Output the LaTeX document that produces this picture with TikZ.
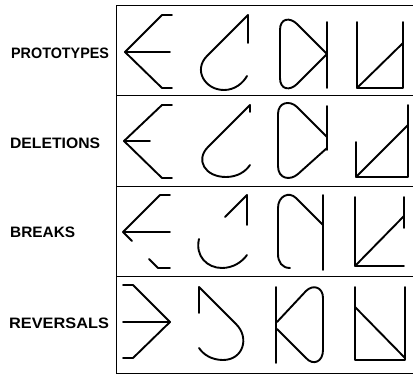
\documentclass[tikz,border=0pt]{standalone}
\usepackage{fontspec}
\setmainfont{Liberation Sans}
\begin{document}
\begin{tikzpicture}[x=0.05cm,y=-0.05cm,
  glyph/.style={line width=2.7pt, line cap=round, line join=round},
  frameline/.style={line width=1.2pt},
  rowlabel/.style={anchor=west, inner sep=0pt, font=\fontsize{21.5}{25}\selectfont\bfseries}]
\useasboundingbox (0,0) rectangle (413,376);
% frame
\draw[frameline] (413,5) -- (116,5) -- (116,373) -- (413,373);
\draw[frameline] (116,95) -- (413,95);
\draw[frameline] (116,186) -- (413,186);
\draw[frameline] (116,276) -- (413,276);
% labels
\node[rowlabel] (lp) at (11,53) {\scalebox{0.95}[1]{PROTOTYPES}};
\node[rowlabel] (ld) at (10,143) {\scalebox{1.04}[1]{DELETIONS}};
\node[rowlabel] (lb) at (10,232) {\scalebox{1.02}[1]{BREAKS}};
\node[rowlabel] (lr) at (9,323) {\scalebox{1.08}[1]{REVERSALS}};
% ---- row 1: prototypes
\draw[glyph] (172,15) -- (162,15) -- (125,52) -- (162,88) -- (172,88);
\draw[glyph] (125,52) -- (170,52);
\draw[glyph] (248,43) -- (248,15) -- (207,56) .. controls (193,70) and (205,90) .. (224,90) .. controls (235,90) and (243,83) .. (247,76);
\draw[glyph] (327,22) -- (327,88);
\draw[glyph] (327,54) -- (297,24) .. controls (290,17) and (280,18) .. (280,30) -- (280,78) .. controls (280,90) and (290,91) .. (297,84) -- cycle;
\draw[glyph] (357,22) -- (357,88) -- (403,88) -- (403,22);
\draw[glyph] (357,88) -- (403,43);
% ---- row 2: deletions
\draw[glyph] (172,105) -- (162,105) -- (124,141) -- (162,178) -- (172,178);
\draw[glyph] (124,141) -- (150,141);
\draw[glyph] (250,112) -- (250,105) -- (208,147) .. controls (195,160) and (205,177) .. (226,177) .. controls (238,177) and (246,171) .. (250,165);
\draw[glyph] (327,137) -- (297,107) .. controls (290,100) and (278,102) .. (278,114) -- (278,166) .. controls (278,179) and (290,181) .. (298,174) -- (327,148);
\draw[glyph] (327,106) -- (327,150);
\draw[glyph] (356,142) -- (356,177) -- (408,177) -- (408,105);
\draw[glyph] (356,177) -- (408,125);
% ---- row 3: breaks
\draw[glyph] (170,195) -- (160,195) -- (123,232) -- (132,241);
\draw[glyph] (123,232) -- (170,232);
\draw[glyph] (149,259) -- (158,268) -- (170,268);
\draw[glyph] (247,225) -- (247,195) -- (225,217);
\draw[glyph] (199,239) .. controls (195,256) and (207,268) .. (222,268) .. controls (233,268) and (242,262) .. (247,255);
\draw[glyph] (290,268) .. controls (282,268) and (278,262) .. (278,254) -- (278,208) .. controls (278,196) and (289,191) .. (296,198) -- (323,225);
\draw[glyph] (323,195) -- (323,270);
\draw[glyph] (355,197) -- (355,266) -- (404,266);
\draw[glyph] (404,197) -- (404,228);
\draw[glyph] (355,266) -- (404,216);
% ---- row 4: reversals
\draw[glyph] (123,285) -- (133,285) -- (170,322) -- (133,358) -- (123,358);
\draw[glyph] (123,322) -- (170,322);
\draw[glyph] (199,313) -- (199,287) -- (236,324) .. controls (250,338) and (243,360) .. (223,360) .. controls (211,360) and (203,354) .. (199,348);
\draw[glyph] (276,287) -- (276,363);
\draw[glyph] (277,322) -- (306,291) .. controls (313,284) and (323,287) .. (323,298) -- (323,350) .. controls (323,362) and (313,366) .. (306,358) -- (277,329);
\draw[glyph] (355,287) -- (355,360) -- (405,360) -- (405,287);
\draw[glyph] (355,307) -- (405,358);
\end{tikzpicture}
\end{document}
